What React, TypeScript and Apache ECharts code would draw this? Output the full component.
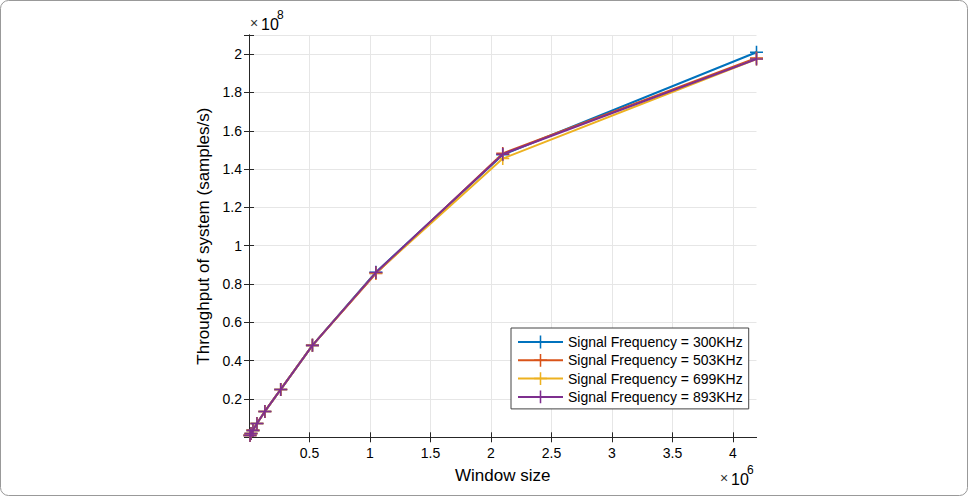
import React, { useEffect, useRef } from "react";
import * as echarts from "echarts";

const windowSizes = [8192, 16384, 32768, 65536, 131072, 262144, 524288, 1048576, 2097152, 4194304];
const series300 = [0.01e8, 0.02e8, 0.036e8, 0.072e8, 0.135e8, 0.25e8, 0.48e8, 0.862e8, 1.475e8, 2.01e8];
const series503 = [0.01e8, 0.02e8, 0.036e8, 0.072e8, 0.135e8, 0.25e8, 0.48e8, 0.855e8, 1.482e8, 1.98e8];
const series699 = [0.01e8, 0.02e8, 0.036e8, 0.072e8, 0.135e8, 0.25e8, 0.48e8, 0.858e8, 1.455e8, 1.975e8];
const series893 = [0.01e8, 0.02e8, 0.036e8, 0.072e8, 0.135e8, 0.25e8, 0.48e8, 0.86e8, 1.478e8, 1.975e8];
const xTickValues = [500000, 1000000, 1500000, 2000000, 2500000, 3000000, 3500000, 4000000];
const seriesNames = [
  "Signal Frequency = 300KHz",
  "Signal Frequency = 503KHz",
  "Signal Frequency = 699KHz",
  "Signal Frequency = 893KHz",
];
const colors = ["#0072BD", "#D95319", "#EDB120", "#7E2F8E"];

const PLUS = "path://M-0.12,-1H0.12V-0.12H1V0.12H0.12V1H-0.12V0.12H-1V-0.12H-0.12Z";
const FONT = "Liberation Sans, Arial, sans-serif";

export default function App() {
  const ref = useRef<HTMLDivElement>(null);
  useEffect(() => {
    if (!ref.current) return;
    const chart = echarts.init(ref.current, null, { renderer: "svg" });
    const allSeries = [series300, series503, series699, series893];
    const xMax = 4194304;
    const axisLine = { show: true, lineStyle: { color: "#262626", width: 1 } };
    const tick = { show: true, inside: true, length: 5, lineStyle: { color: "#262626" } };
    const xTick = { ...tick, customValues: xTickValues };
    chart.setOption({
      animation: false,
      backgroundColor: "#fff",
      textStyle: { fontFamily: FONT },
      grid: { left: 249, right: 211.5, top: 35, bottom: 58.7, containLabel: false },
      legend: {
        orient: "vertical",
        left: 511,
        top: 328,
        itemWidth: 45,
        itemHeight: 16,
        itemGap: 4.3,
        padding: [7, 6, 5, 6],
        backgroundColor: "#fff",
        borderColor: "#444",
        borderWidth: 1,
        textStyle: { fontFamily: FONT, fontSize: 14, color: "#000" },
        data: seriesNames,
      },
      xAxis: [
        {
          type: "value",
          min: 0,
          max: xMax,
          interval: 500000,
          name: "Window size",
          nameLocation: "middle",
          nameGap: 30,
          nameTextStyle: { fontFamily: FONT, fontSize: 17, color: "#000" },
          axisLine,
          axisTick: xTick,
          axisLabel: {
            color: "#000",
            fontSize: 14,
            fontFamily: FONT,
            margin: 9,
            customValues: xTickValues,
            formatter: (v: number) =>
              v === 0 || v % 500000 !== 0 ? "" : String(parseFloat((v / 1e6).toFixed(1))),
          },
          splitLine: { show: true, lineStyle: { color: "#e6e6e6" } },
        },
        {
          type: "value",
          position: "top",
          min: 0,
          max: xMax,
          interval: 500000,
          axisLine,
          axisTick: xTick,
          axisLabel: { show: false },
          splitLine: { show: false },
        },
      ],
      yAxis: [
        {
          type: "value",
          min: 0,
          max: 2.1e8,
          interval: 2e7,
          name: "Throughput of system (samples/s)",
          nameLocation: "middle",
          nameGap: 29,
          nameTextStyle: { fontFamily: FONT, fontSize: 17, color: "#000" },
          axisLine,
          axisTick: tick,
          axisLabel: {
            color: "#000",
            fontSize: 14,
            fontFamily: FONT,
            margin: 7,
            formatter: (v: number) =>
              v === 0 || Math.round(v) % 20000000 !== 0 ? "" : String(parseFloat((v / 1e8).toFixed(1))),
          },
          splitLine: { show: true, lineStyle: { color: "#e6e6e6" } },
        },
        {
          type: "value",
          position: "right",
          min: 0,
          max: 2.1e8,
          interval: 2e7,
          axisLine,
          axisTick: tick,
          axisLabel: { show: false },
          splitLine: { show: false },
        },
      ],
      series: allSeries.map((vals, i) => ({
        name: seriesNames[i],
        type: "line",
        data: windowSizes.map((x, j) => [x, vals[j]]),
        symbol: PLUS,
        symbolSize: 13,
        showAllSymbol: true,
        lineStyle: { color: colors[i], width: 2 },
        itemStyle: { color: colors[i] },
        z: 2 + i,
      })),
      graphic: [
        {
          type: "rect",
          shape: { x: 0.5, y: 0.5, width: 967, height: 495, r: 8 },
          style: { fill: "none", stroke: "#999", lineWidth: 1 },
          silent: true,
        },
        { type: "text", left: 250, top: 16, style: { text: "×", font: `14px ${FONT}`, fill: "#333" } },
        { type: "text", left: 261, top: 16, style: { text: "10", font: `16px ${FONT}`, fill: "#000" } },
        { type: "text", left: 277, top: 9, style: { text: "8", font: `12px ${FONT}`, fill: "#000" } },
        { type: "text", left: 720, top: 471, style: { text: "×", font: `14px ${FONT}`, fill: "#333" } },
        { type: "text", left: 731, top: 471, style: { text: "10", font: `16px ${FONT}`, fill: "#000" } },
        { type: "text", left: 747, top: 464, style: { text: "6", font: `12px ${FONT}`, fill: "#000" } },
      ],
    });
    return () => chart.dispose();
  }, []);
  return (
    <div
      ref={ref}
      style={{ position: "fixed", left: 0, top: 0, width: 968, height: 496 }}
    />
  );
}
